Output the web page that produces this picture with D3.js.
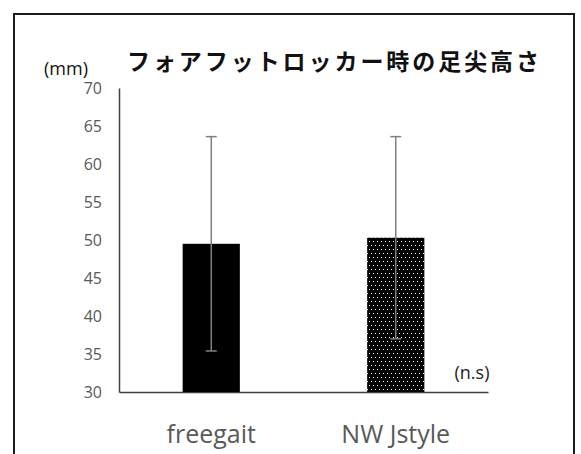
<!DOCTYPE html>
<html>
<head>
<meta charset="utf-8">
<script src="https://cdn.jsdelivr.net/npm/d3@7/dist/d3.min.js"></script>
<style>
  html, body { margin: 0; padding: 0; background: #fff; }
  svg { display: block; }
</style>
</head>
<body>
<script>
// Forefoot-rocker toe clearance, mean ± SD per condition
const categories = ["freegait", "NW Jstyle"];
const means = [49.5, 50.3];
const sds = [14.1, 13.3];
const yTicks = [30, 35, 40, 45, 50, 55, 60, 65, 70];
const titleText = "フォアフットロッカー時の足尖高さ";
const unitText = "(mm)";
const noteText = "(n.s)";

const W = 581, H = 454;
const svg = d3.select("body").append("svg").attr("width", W).attr("height", H);

// dotted fill used by the second bar
const defs = svg.append("defs");
const pat = defs.append("pattern")
  .attr("id", "dots").attr("patternUnits", "userSpaceOnUse")
  .attr("width", 4).attr("height", 8);
pat.append("rect").attr("width", 4).attr("height", 8).attr("fill", "#000");
pat.append("rect").attr("x", 1).attr("y", 1).attr("width", 1).attr("height", 1).attr("fill", "#fff");
pat.append("rect").attr("x", 3).attr("y", 5).attr("width", 1).attr("height", 1).attr("fill", "#fff");

// frame
svg.append("rect")
  .attr("x", 14).attr("y", 14).attr("width", 560).attr("height", 460)
  .attr("fill", "none").attr("stroke", "#1a1a1a").attr("stroke-width", 2);

const x0 = 119, x1 = 488, yTop = 88, yBot = 392;
const x = d3.scaleBand().domain(categories).range([x0, x1]).paddingInner(0.69).paddingOuter(0.345);
const y = d3.scaleLinear().domain([30, 70]).range([yBot, yTop]);

// y axis
const yAxis = d3.axisLeft(y).tickValues(yTicks).tickSize(0).tickPadding(17);
const gy = svg.append("g").attr("transform", `translate(${x0},0)`).call(yAxis);
gy.select(".domain").attr("stroke", "#404040").attr("stroke-width", 1.5);
gy.selectAll("text")
  .attr("font-family", "'Open Sans', sans-serif").attr("font-size", 16).attr("fill", "#595959");

// x axis
const xAxis = d3.axisBottom(x).tickSize(0).tickPadding(33);
const gx = svg.append("g").attr("transform", `translate(0,${yBot})`).call(xAxis);
gx.select(".domain").attr("stroke", "#404040").attr("stroke-width", 1.5);
gx.selectAll("text")
  .attr("font-family", "'Open Sans', sans-serif").attr("font-size", 25).attr("fill", "#595959");

// bars
const fills = ["#000", "url(#dots)"];
svg.selectAll("rect.bar").data(categories).join("rect")
  .attr("class", "bar")
  .attr("x", d => x(d))
  .attr("width", x.bandwidth())
  .attr("y", (d, i) => y(means[i]))
  .attr("height", (d, i) => yBot - y(means[i]))
  .attr("fill", (d, i) => fills[i]);

// error bars
const eb = svg.selectAll("g.err").data(categories).join("g").attr("class", "err")
  .attr("stroke", "#808080").attr("stroke-width", 1.5);
eb.append("line")
  .attr("x1", d => x(d) + x.bandwidth() / 2).attr("x2", d => x(d) + x.bandwidth() / 2)
  .attr("y1", (d, i) => y(means[i] + sds[i])).attr("y2", (d, i) => y(means[i] - sds[i]));
[1, -1].forEach(s => {
  eb.append("line")
    .attr("x1", d => x(d) + x.bandwidth() / 2 - 5.5).attr("x2", d => x(d) + x.bandwidth() / 2 + 5.5)
    .attr("y1", (d, i) => y(means[i] + s * sds[i])).attr("y2", (d, i) => y(means[i] + s * sds[i]));
});

// titles and notes
svg.append("text").attr("x", 127).attr("y", 70)
  .attr("font-family", "'Noto Sans CJK JP', sans-serif").attr("font-weight", "bold")
  .attr("font-size", 23).attr("fill", "#111")
  .attr("textLength", 412).attr("lengthAdjust", "spacing")
  .text(titleText);
svg.append("text").attr("x", 66).attr("y", 75).attr("text-anchor", "middle")
  .attr("font-family", "'Open Sans', sans-serif").attr("font-size", 18).attr("fill", "#111")
  .text(unitText);
svg.append("text").attr("x", 472).attr("y", 379).attr("text-anchor", "middle")
  .attr("font-family", "'Open Sans', sans-serif").attr("font-size", 18).attr("fill", "#222")
  .text(noteText);
</script>
</body>
</html>
